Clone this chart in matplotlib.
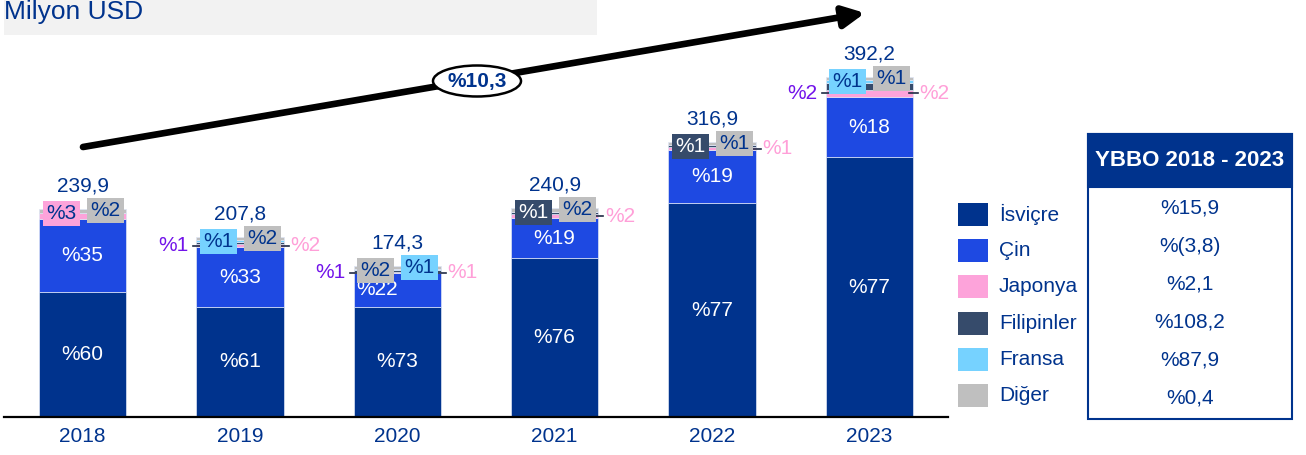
import numpy as np
import matplotlib.pyplot as plt
from matplotlib.patches import Rectangle, Ellipse

plt.rcParams['font.family'] = ['Liberation Sans', 'DejaVu Sans']

# data (Milyon USD, shares in %)
years = ['2018', '2019', '2020', '2021', '2022', '2023']
totals = [239.9, 207.8, 174.3, 240.9, 316.9, 392.2]
isvicre = [60, 61, 73, 76, 77, 77]
cin = [35, 33, 22, 19, 19, 18]
japonya = [3, 2, 1, 2, 1, 2]
filipinler = [0, 1, 1, 1, 1, 2]
fransa = [0, 1, 1, 0, 0, 1]
diger = [2, 2, 2, 2, 1, 1]
countries = ['İsviçre', 'Çin', 'Japonya', 'Filipinler', 'Fransa', 'Diğer']
ybbo = ['%15,9', '%(3,8)', '%2,1', '%108,2', '%87,9', '%0,4']
cagr_label = '%10,3'

BLUE = '#00338d'
colors = ['#00338d', '#1e49e2', '#fda3da', '#364b6b', '#76d2ff', '#bfbfbf']
series = [isvicre, cin, japonya, filipinler, fransa, diger]

# where the small shares are written: box left/right on top, or outside left/right
small_labels = [
    [(2, 'boxL'), (5, 'boxR')],
    [(3, 'outL'), (4, 'boxL'), (5, 'boxR'), (2, 'outR')],
    [(3, 'outL'), (5, 'boxL'), (4, 'boxR'), (2, 'outR')],
    [(3, 'boxL'), (5, 'boxR'), (2, 'outR')],
    [(3, 'boxL'), (5, 'boxR'), (2, 'outR')],
    [(3, 'outL'), (4, 'boxL'), (5, 'boxR'), (2, 'outR')],
]

W, H = 1306, 455
fig = plt.figure(figsize=(W / 100, H / 100), dpi=100)
ax = fig.add_axes([4 / W, (H - 417) / H, 944 / W, 417 / H])
k = 0.868  # px per unit
ax.set_xlim(-0.5, 5.5)
ax.set_ylim(0, 417 / k)
for s in ['top', 'right', 'left']:
    ax.spines[s].set_visible(False)
ax.spines['bottom'].set_linewidth(1.6)
ax.set_yticks([])

x = np.arange(len(years))
bw = 0.553
shares = np.array(series, dtype=float)
col_sum = shares.sum(axis=0)
bottom = np.zeros(len(years))
seg_mid = {}
for j, (vals, c) in enumerate(zip(shares, colors)):
    seg = np.array(totals) * vals / col_sum
    ax.bar(x, seg, bw, bottom=bottom, color=c, edgecolor='#dfe6f5', linewidth=0.5,
           label=countries[j])
    seg_mid[j] = bottom + seg / 2
    if j < 2:
        for i in range(len(years)):
            dx = -0.13 if (j == 1 and i == 2) else 0
            ax.text(x[i] + dx, bottom[i] + seg[i] / 2, '%' + str(int(vals[i])),
                    ha='center', va='center', color='white', fontsize=15)
    bottom = bottom + seg

bx_w, bx_h = 37 / 157.3, 25 / k
for i in range(len(years)):
    top = bottom[i]
    ax.text(x[i], top + 23 / k, f'{totals[i]:.1f}'.replace('.', ','),
            ha='center', va='center', color=BLUE, fontsize=15)
    y_out = seg_mid[2][i]
    for j, mode in small_labels[i]:
        lab = '%' + str(int(series[j][i]))
        if mode.startswith('box'):
            if mode == 'boxL':
                cx, yc = x[i] - 0.137, top - 5 / k
            else:
                cx, yc = x[i] + 0.143, top - 1.5 / k
            ax.add_patch(Rectangle((cx - bx_w / 2, yc - bx_h / 2), bx_w, bx_h,
                                   facecolor=colors[j], edgecolor='none', zorder=3))
            tc = 'white' if j == 3 else BLUE
            ax.text(cx, yc, lab, ha='center', va='center', color=tc,
                    fontsize=15, zorder=4)
        elif mode == 'outL':
            ax.plot([x[i] - 0.30, x[i] - 0.255], [y_out, y_out], color='#1f2a44',
                    lw=1.2, zorder=2)
            ax.text(x[i] - 0.33, y_out, lab, ha='right', va='center',
                    color='#7213ea', fontsize=15)
        else:
            ax.plot([x[i] + 0.255, x[i] + 0.31], [y_out, y_out], color='#1f2a44',
                    lw=1.2, zorder=2)
            ax.text(x[i] + 0.32, y_out, lab, ha='left', va='center',
                    color='#ff9fd8', fontsize=15)

ax.set_xticks(x, years)
ax.tick_params(axis='x', length=0, pad=7, labelsize=15, labelcolor=BLUE)

# overlay in pixel coordinates
ov = fig.add_axes([0, 0, 1, 1], zorder=5)
ov.set_xlim(0, W)
ov.set_ylim(H, 0)
ov.axis('off')
ov.patch.set_alpha(0)

ov.add_patch(Rectangle((4, 0), 593, 35, facecolor='#f2f2f2', edgecolor='none'))
ov.text(4, 19, 'Milyon USD', ha='left', va='baseline', color=BLUE, fontsize=19)

ov.annotate('', xy=(865, 13), xytext=(83, 147),
            arrowprops=dict(arrowstyle='-|>', lw=4.8, color='black',
                            mutation_scale=32, shrinkA=0, shrinkB=0))
ov.add_patch(Ellipse((477, 81), 88, 31, facecolor='white', edgecolor='black',
                     lw=1.8, zorder=3))
ov.text(477, 82, cagr_label, ha='center', va='center', color=BLUE,
        fontsize=15, fontweight='bold', zorder=4)

# legend
for i, name in enumerate(countries):
    cy = 214.5 + i * 36.2
    ov.add_patch(Rectangle((958, cy - 11.5), 30, 23, facecolor=colors[i],
                           edgecolor='none'))
    ov.text(999, cy, name, ha='left', va='center', color=BLUE, fontsize=15)

# YBBO table
ov.add_patch(Rectangle((1088, 134), 204, 285, facecolor='none', edgecolor=BLUE,
                       lw=1.5))
ov.add_patch(Rectangle((1088, 134), 204, 53, facecolor=BLUE, edgecolor=BLUE,
                       lw=1.5))
ov.text(1190, 161, 'YBBO 2018 - 2023', ha='center', va='center', color='white',
        fontsize=16, fontweight='bold')
for i, v in enumerate(ybbo):
    ov.text(1190, 208 + i * 38, v, ha='center', va='center', color=BLUE,
            fontsize=15)

fig.savefig('out.png', dpi=100)
